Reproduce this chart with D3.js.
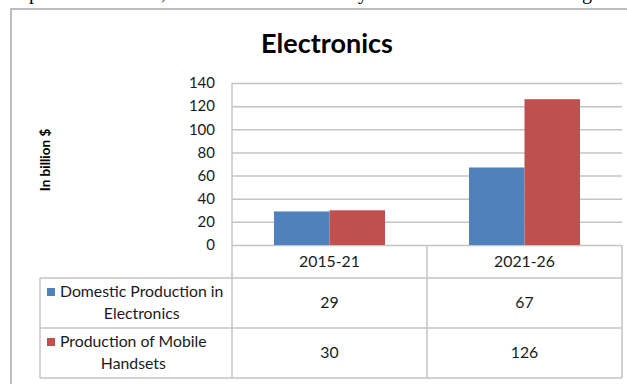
<!DOCTYPE html>
<html>
<head>
<meta charset="utf-8">
<script src="https://cdn.jsdelivr.net/npm/d3@7"></script>
<style>
  html, body { margin: 0; padding: 0; background: #fff; }
  svg { display: block; }
</style>
</head>
<body>
<svg id="chart" width="627" height="384"></svg>
<script>
// Chart data
const categories = ["2015-21", "2021-26"];
const seriesNames = [
  ["Domestic Production in", "Electronics"],
  ["Production of Mobile", "Handsets"]
];
const domesticValues = [29, 67];
const mobileValues = [30, 126];
const yTicks = [0, 20, 40, 60, 80, 100, 120, 140];
const seriesColors = ["#4F81BD", "#C0504D"];
const seriesValues = [domesticValues, mobileValues];

const svg = d3.select("#chart");
const font = "Lato, 'Open Sans', sans-serif";
const gridColor = "#c4c4c4";
const textColor = "#1a1a1a";
const tableFontSize = 15.8;

// Clipped line of body text running above the chart frame
const topLine = svg.append("text")
  .attr("y", -1)
  .attr("font-family", "'Liberation Serif', 'DejaVu Serif', serif")
  .attr("font-size", 20)
  .attr("fill", "#000");
[["p", 29], [",", 161], ["y", 358], ["g", 582]].forEach(([ch, x]) => {
  topLine.append("tspan").attr("x", x).text(ch);
});

// Chart frame
svg.append("rect")
  .attr("x", 11).attr("y", 9)
  .attr("width", 640).attr("height", 400)
  .attr("fill", "#fff")
  .attr("stroke", "#bdbdbd")
  .attr("stroke-width", 2);

// Title
const title = svg.append("text")
  .attr("x", 327).attr("y", 53)
  .attr("text-anchor", "middle")
  .attr("font-family", font)
  .attr("font-weight", "bold")
  .attr("font-size", 27)
  .attr("fill", "#000")
  .text("Electronics");
if (title.node().getComputedTextLength() > 142) {
  title.attr("textLength", 142).attr("lengthAdjust", "spacingAndGlyphs");
}

// Plot area
const plot = { left: 232, right: 622, top: 83, bottom: 245 };
const tableBottom = 378;

const x = d3.scaleBand()
  .domain(categories)
  .range([plot.left, plot.right])
  .paddingInner(0)
  .paddingOuter(0);

// Two bars side by side in each category, with a 75% gap
const inner = d3.scaleBand()
  .domain(d3.range(seriesValues.length))
  .range([0, x.bandwidth()])
  .paddingOuter(0.757)
  .paddingInner(0);

const y = d3.scaleLinear()
  .domain([0, 140])
  .range([plot.bottom, plot.top]);

// Gridlines and value axis labels
const yAxis = d3.axisLeft(y)
  .tickValues(yTicks)
  .tickSize(-(plot.right - plot.left))
  .tickPadding(17);

const yg = svg.append("g")
  .attr("transform", `translate(${plot.left},0)`)
  .call(yAxis);
yg.select(".domain").remove();
yg.selectAll(".tick line")
  .attr("stroke", gridColor)
  .attr("stroke-width", 1.5);
yg.selectAll(".tick text")
  .attr("font-family", font)
  .attr("font-size", 15)
  .attr("fill", textColor);

// Axis title
svg.append("text")
  .attr("transform", "translate(50,160) rotate(-90)")
  .attr("text-anchor", "middle")
  .attr("font-family", font)
  .attr("font-weight", "bold")
  .attr("font-size", 13.5)
  .attr("fill", "#000")
  .text("In billion $");

// Bars
seriesValues.forEach((vals, si) => {
  svg.append("g")
    .selectAll("rect")
    .data(vals)
    .join("rect")
    .attr("x", (d, i) => x(categories[i]) + inner(si))
    .attr("width", inner.bandwidth())
    .attr("y", d => y(d))
    .attr("height", d => y(0) - y(d))
    .attr("fill", seriesColors[si]);
});

// Data table
const tableLeft = 40;
const headerBottom = 278;
const rowHeight = (tableBottom - headerBottom) / seriesNames.length;
const lines = svg.append("g")
  .attr("stroke", gridColor)
  .attr("stroke-width", 1.5)
  .attr("fill", "none");

// vertical rules
lines.append("line")
  .attr("x1", plot.left).attr("x2", plot.left)
  .attr("y1", plot.top).attr("y2", tableBottom);
categories.forEach(c => {
  const xr = x(c) + x.bandwidth();
  lines.append("line")
    .attr("x1", xr).attr("x2", xr)
    .attr("y1", plot.bottom).attr("y2", tableBottom);
});
lines.append("line")
  .attr("x1", tableLeft).attr("x2", tableLeft)
  .attr("y1", headerBottom).attr("y2", tableBottom);
// horizontal rules
[headerBottom, headerBottom + rowHeight, tableBottom].forEach(yy => {
  lines.append("line")
    .attr("x1", tableLeft).attr("x2", plot.right)
    .attr("y1", yy).attr("y2", yy);
});

// Category headers
svg.append("g")
  .selectAll("text")
  .data(categories)
  .join("text")
  .attr("x", d => x(d) + x.bandwidth() / 2)
  .attr("y", (plot.bottom + headerBottom) / 2 + 5)
  .attr("text-anchor", "middle")
  .attr("font-family", font)
  .attr("font-size", tableFontSize)
  .attr("fill", textColor)
  .text(d => d);

// Table rows: legend key, series name and values
seriesNames.forEach((name, si) => {
  const top = headerBottom + si * rowHeight;
  const mid = top + rowHeight / 2;
  const g = svg.append("g");
  g.append("rect")
    .attr("x", 47).attr("y", mid - 15)
    .attr("width", 8).attr("height", 8)
    .attr("fill", seriesColors[si]);
  const l1 = g.append("text")
    .attr("x", 60).attr("y", mid - 6)
    .attr("font-family", font)
    .attr("font-size", tableFontSize)
    .attr("fill", textColor)
    .text(name[0]);
  const w = l1.node().getComputedTextLength();
  g.append("text")
    .attr("x", 60 + w / 2).attr("y", mid + 16)
    .attr("text-anchor", "middle")
    .attr("font-family", font)
    .attr("font-size", tableFontSize)
    .attr("fill", textColor)
    .text(name[1]);
  g.selectAll("text.val")
    .data(seriesValues[si])
    .join("text")
    .attr("class", "val")
    .attr("x", (d, i) => x(categories[i]) + x.bandwidth() / 2)
    .attr("y", mid + 5)
    .attr("text-anchor", "middle")
    .attr("font-family", font)
    .attr("font-size", tableFontSize)
    .attr("fill", textColor)
    .text(d => d);
});
</script>
</body>
</html>
